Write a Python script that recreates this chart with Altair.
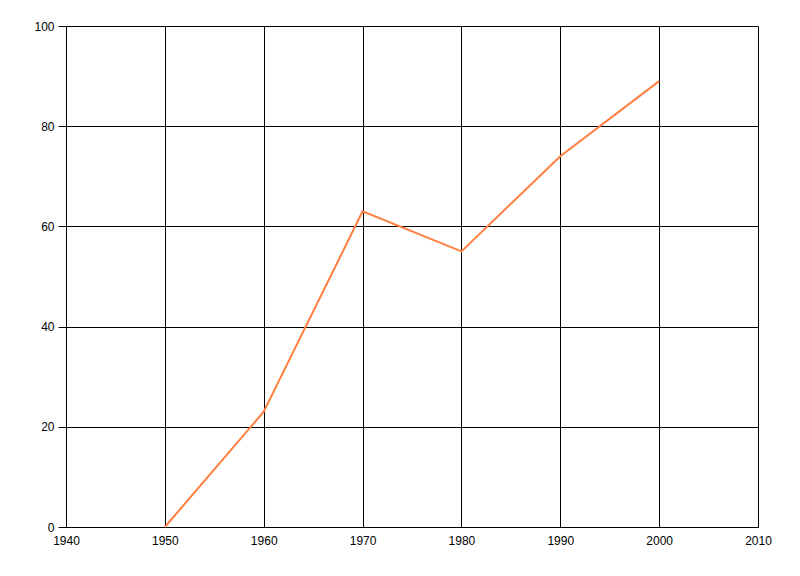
import altair as alt
import pandas as pd

years = [1950, 1960, 1970, 1980, 1990, 2000]
values = [0, 23, 63, 55, 74, 89]
x_ticks = [1940, 1950, 1960, 1970, 1980, 1990, 2000, 2010]
y_ticks = [0, 20, 40, 60, 80, 100]

df = pd.DataFrame({"year": years, "value": values})

chart = alt.Chart(df).mark_line(color="#FF7F40", strokeWidth=2).encode(
    x=alt.X("year:Q", scale=alt.Scale(domain=[1940, 2010], nice=False),
            axis=alt.Axis(values=x_ticks, format="d", title=None, grid=True,
                          gridColor="black", gridOpacity=1, domainColor="black",
                          ticks=False, labelPadding=8, labelFont="Liberation Sans",
                          labelFontSize=12, labelColor="black", labelFlush=False)),
    y=alt.Y("value:Q", scale=alt.Scale(domain=[0, 100], nice=False),
            axis=alt.Axis(values=y_ticks, title=None, grid=True,
                          gridColor="black", gridOpacity=1, domainColor="black",
                          tickColor="black", tickSize=8, labelPadding=4,
                          labelFont="Liberation Sans", labelFontSize=12,
                          labelColor="black", labelFlush=False)),
).properties(
    width=692, height=501,
    autosize=alt.AutoSizeParams(type="none"),
    padding={"left": 58, "top": 18, "right": 34, "bottom": 49},
).configure_view(stroke="black", strokeWidth=1).configure(background="white")

chart.save("out.html", embed_options={"renderer": "svg", "actions": False})
